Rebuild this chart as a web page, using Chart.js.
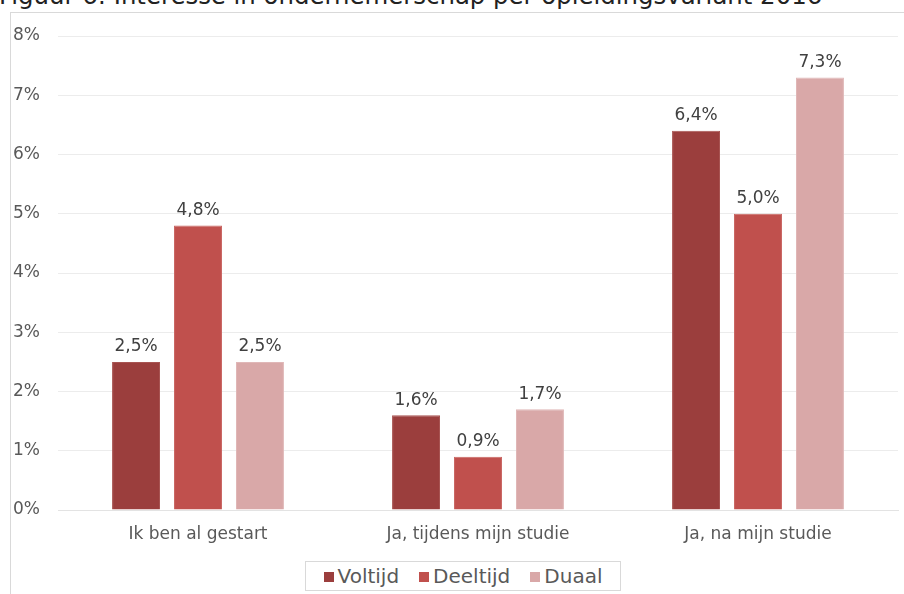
<!DOCTYPE html>
<html>
<head>
<meta charset="utf-8">
<script src="https://cdn.jsdelivr.net/npm/chart.js@4"></script>
<style>
    html, body { margin: 0; padding: 0; background: #fff; }
    body { width: 904px; height: 594px; position: relative; overflow: hidden; font-family: "DejaVu Sans", Verdana, sans-serif; }
    #titel { position: absolute; left: -1px; top: -18px; font-size: 24.4px; line-height: 28px; color: #222; white-space: nowrap; }
    #kader { position: absolute; left: 10px; top: 12px; right: 0; bottom: 0; border-left: 1px solid #d9d9d9; border-top: 1px solid #d9d9d9; }
    #grafiek-box { position: absolute; left: 0; top: 0; width: 904px; height: 594px; }
    #legenda { position: absolute; left: 305px; top: 561px; width: 314px; height: 28px; border: 1px solid #d9d9d9; display: flex; align-items: center; justify-content: center; gap: 20px; font-size: 20px; color: #595959; background: #fff; }
    #legenda span.blok { display: inline-block; width: 10px; height: 10px; margin-right: 4px; vertical-align: 1px; }
</style>
</head>
<body>
<div id="titel">Figuur 6: Interesse in ondernemerschap per opleidingsvariant 2016</div>
<div id="kader"></div>
<div id="grafiek-box"><canvas id="miGrafico" width="904" height="594"></canvas></div>
<div id="legenda"></div>
<script>
const categorieen = ['Ik ben al gestart', 'Ja, tijdens mijn studie', 'Ja, na mijn studie'];
const voltijd = [2.5, 1.6, 6.4];
const deeltijd = [4.8, 0.9, 5.0];
const duaal = [2.5, 1.7, 7.3];
const reeksNamen = ['Voltijd', 'Deeltijd', 'Duaal'];
const yTicks = [0, 1, 2, 3, 4, 5, 6, 7, 8];

const kleuren = ['#9b3e3d', '#c0504d', '#d9a8a8'];
const randKleuren = ['#a85452', '#c96562', '#e0b7b7'];

function formatPct(v) {
    return v.toFixed(1).replace('.', ',') + '%';
}

// labels boven de staven
const waardeLabels = {
    id: 'waardeLabels',
    afterDatasetsDraw(chart) {
        const ctx = chart.ctx;
        ctx.save();
        ctx.font = '17px "DejaVu Sans"';
        ctx.fillStyle = '#404040';
        ctx.textAlign = 'center';
        ctx.textBaseline = 'middle';
        chart.data.datasets.forEach((ds, i) => {
            chart.getDatasetMeta(i).data.forEach((bar, j) => {
                ctx.fillText(formatPct(ds.data[j]), bar.x, bar.y - 15);
            });
        });
        ctx.restore();
    }
};

window.onload = function () {
    const ctx = document.getElementById('miGrafico').getContext('2d');
    const reeksen = [voltijd, deeltijd, duaal];

    new Chart(ctx, {
        type: 'bar',
        data: {
            labels: categorieen,
            datasets: reeksen.map((data, i) => ({
                label: reeksNamen[i],
                data: data,
                backgroundColor: kleuren[i],
                borderColor: randKleuren[i],
                borderWidth: 1,
                categoryPercentage: 0.664,
                barPercentage: 0.774
            }))
        },
        options: {
            responsive: false,
            animation: false,
            layout: { padding: { left: 13, right: 6, top: 36, bottom: 44 } },
            plugins: {
                legend: { display: false },
                tooltip: { enabled: false }
            },
            scales: {
                x: {
                    grid: { display: false },
                    border: { color: '#e3e3e3' },
                    ticks: { color: '#595959', padding: 6, font: { family: 'DejaVu Sans', size: 17 } },
                    afterFit: function (scale) { scale.height = 40; }
                },
                y: {
                    min: 0,
                    max: 8,
                    afterBuildTicks: function (scale) { scale.ticks = yTicks.map(v => ({ value: v })); },
                    grid: { color: '#ececec', drawTicks: false },
                    border: { display: false },
                    ticks: {
                        color: '#595959',
                        crossAlign: 'far',
                        font: { family: 'DejaVu Sans', size: 17 },
                        callback: v => v + '%'
                    },
                    afterFit: function (scale) { scale.width = 45; }
                }
            }
        },
        plugins: [waardeLabels]
    });

    const legenda = document.getElementById('legenda');
    legenda.innerHTML = reeksNamen.map((naam, i) =>
        '<div><span class="blok" style="background:' + kleuren[i] + '"></span>' + naam + '</div>'
    ).join('');
};
</script>
</body>
</html>
